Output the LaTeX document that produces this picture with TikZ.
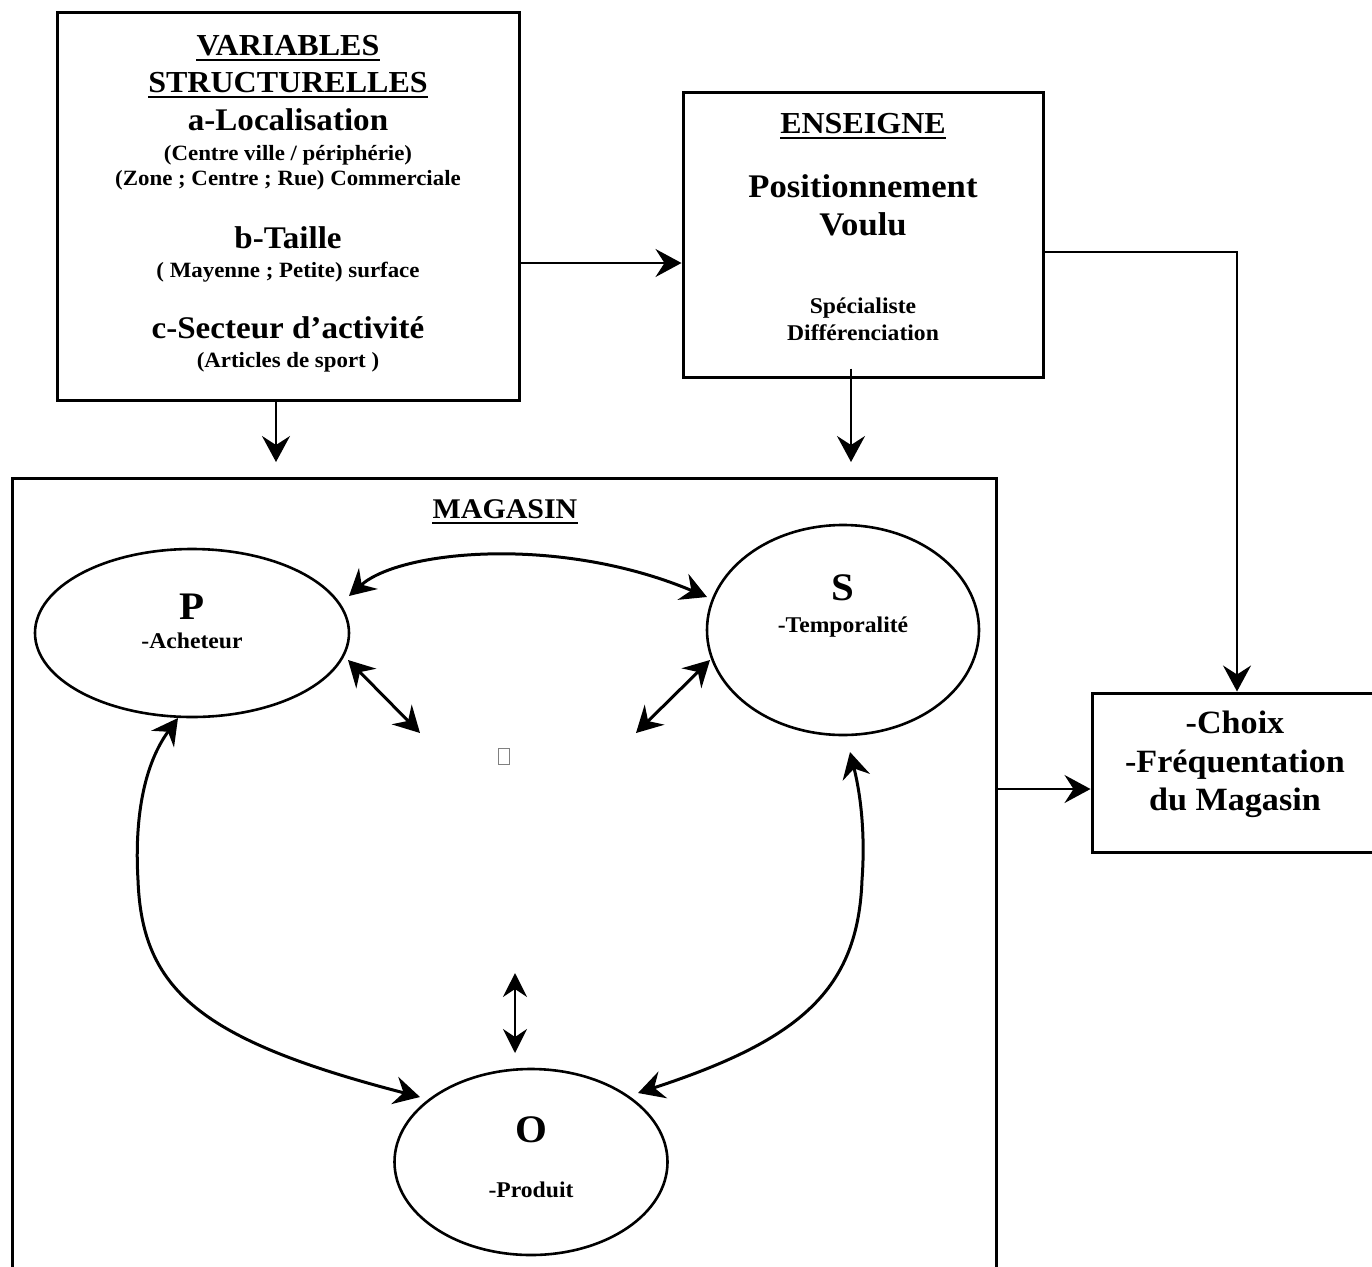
\documentclass[tikz,border=0pt]{standalone}
\usepackage{fontspec}
\setmainfont{Liberation Serif}[FakeStretch=1.05]
\usetikzlibrary{arrows.meta,shapes.geometric,calc}
\newcommand{\fsz}[1]{\fontsize{#1pt}{#1pt}\selectfont}
\begin{document}
\begin{tikzpicture}[x=1pt,y=-1pt,
  box/.style={draw, line width=3pt, inner sep=0pt},
  ell/.style={draw, ellipse, line width=2.6pt, inner sep=0pt},
  txt/.style={anchor=base, inner sep=0pt, font=\bfseries},
  arr/.style={line width=2pt, -{Stealth[length=26pt,width=28pt,inset=9pt]}},
  darr/.style={line width=3pt, {Stealth[length=26pt,width=28pt,inset=9pt]}-{Stealth[length=26pt,width=28pt,inset=9pt]}},
  sdarr/.style={line width=2.2pt, {Stealth[length=24pt,width=24pt,inset=8pt]}-{Stealth[length=24pt,width=24pt,inset=8pt]}},
  ulin/.style={line width=2pt}]
\useasboundingbox (0,0) rectangle (1372,1266);
\fill[white] (0,0) rectangle (1372,1266);

% boxes
\node[box, minimum width=462pt, minimum height=388pt] (var) at (288,206) {};
\node[box, minimum width=360pt, minimum height=285pt] (ens) at (863,234.5) {};
\node[box, minimum width=298pt, minimum height=159pt] (cho) at (1241,772.5) {};
\node[box, minimum width=984pt, minimum height=812pt] (mag) at (504,884) {};

% VARIABLES text
\node[txt] (v1) at (288,55) {\fsz{30.5}VARIABLES};
\node[txt] (v2) at (288,92) {\fsz{30.5}STRUCTURELLES};
\draw[ulin] ($(v1.base west)+(0,5)$) -- ($(v1.base east)+(0,5)$);
\draw[ulin] ($(v2.base west)+(0,5)$) -- ($(v2.base east)+(0,5)$);
\node[txt] (v3) at (288,130) {\fsz{31.5}a-Localisation};
\node[txt] (v4) at (288,160) {\fsz{21.8}(Centre ville / périphérie)};
\node[txt] (v5) at (288,185) {\fsz{21.8}(Zone ; Centre ; Rue) Commerciale};
\node[txt] (v6) at (288,248) {\fsz{31.5}b-Taille};
\node[txt] (v7) at (288,277) {\fsz{21.8}( Mayenne ; Petite) surface};
\node[txt] (v8) at (288,338) {\fsz{31.5}c-Secteur d’activité};
\node[txt] (v9) at (288,367) {\fsz{21.8}(Articles de sport )};

% ENSEIGNE text
\node[txt] (e1) at (863,133) {\fsz{30.5}ENSEIGNE};
\draw[ulin] ($(e1.base west)+(0,5)$) -- ($(e1.base east)+(0,5)$);
\node[txt] (e2) at (863,197) {\fsz{33}Positionnement};
\node[txt] (e3) at (863,235) {\fsz{33}Voulu};
\node[txt] (e4) at (863,313) {\fsz{22.5}Spécialiste};
\node[txt] (e5) at (863,340) {\fsz{22.5}Différenciation};

% Choix text
\node[txt] (c1) at (1235,733) {\fsz{32.5}-Choix};
\node[txt] (c2) at (1235,772) {\fsz{32.5}-Fréquentation};
\node[txt] (c3) at (1235,810) {\fsz{32.5}du Magasin};

% MAGASIN
\node[txt] (m1) at (505,518) {\fsz{28.5}MAGASIN};
\draw[ulin] ($(m1.base west)+(0,5)$) -- ($(m1.base east)+(0,5)$);

% ellipses
\node[ell, minimum width=314pt, minimum height=168pt] (P) at (192,633) {};
\node[ell, minimum width=272pt, minimum height=210pt] (S) at (843,630) {};
\node[ell, minimum width=273pt, minimum height=186pt] (O) at (531,1162) {};
\node[txt] (Pt) at (192,619) {\fsz{39}P};
\node[txt] (Pl) at (192,648) {\fsz{22.5}-Acheteur};
\node[txt] (St) at (843,600) {\fsz{39}S};
\node[txt] (Sl) at (843,632) {\fsz{22.5}-Temporalité};
\node[txt] (Ot) at (531,1142) {\fsz{39}O};
\node[txt] (Ol) at (531,1197) {\fsz{22.5}-Produit};

% missing glyph box
\node[draw=gray, line width=0.8pt, minimum width=11pt, minimum height=16pt, inner sep=0pt] (tofu) at (504,756) {};

% straight arrows
\coordinate (a1) at (519,263);
\draw[arr] (a1) -- (a1 -| ens.west);
\draw[arr] (ens.east |- 0,252) -| (1237,0 |- cho.north);
\draw[arr] (mag.east |- 0,789) -- (cho.west |- 0,789);
\draw[arr] (276,0 |- var.south) -- (276,462);
\draw[arr] ($(851,0 |- ens.south)+(0,-10)$) -- (851,462);

% curved / double arrows
\coordinate (ps1) at (349,596);
\coordinate (ps2) at (707,597);
\draw[darr] (ps1) .. controls (400,550) and (560,535) .. (ps2);
\coordinate (pd1) at (348,660);
\coordinate (pd2) at (420,733);
\draw[darr] (pd1) -- (pd2);
\coordinate (sd1) at (710,660);
\coordinate (sd2) at (636,733);
\draw[darr] (sd1) -- (sd2);
\coordinate (cv1) at (515,973);
\coordinate (cv2) at (515,1053);
\draw[sdarr] (cv1) -- (cv2);
\coordinate (po1) at (178,718);
\coordinate (po2) at (420,1097);
\draw[darr] (po1) .. controls (140,770) and (135,830) .. (138,880) .. controls (142,990) and (200,1040) .. (po2);
\coordinate (so1) at (850,752);
\coordinate (so2) at (638,1093);
\draw[darr] (so1) .. controls (862,800) and (865,840) .. (862,880) .. controls (858,990) and (800,1040) .. (so2);
\end{tikzpicture}
\end{document}
